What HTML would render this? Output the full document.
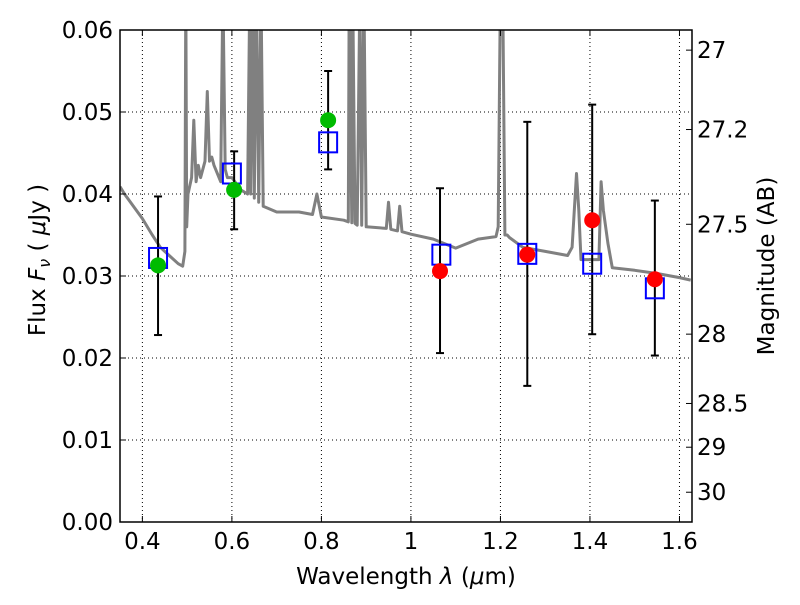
<!DOCTYPE html>
<html><head><meta charset="utf-8"><style>
body{margin:0;background:#fff;}
svg text{font-family:"DejaVu Sans","Liberation Sans",sans-serif;fill:#000;}
</style></head><body>
<svg id="chart" width="800" height="600" xmlns="http://www.w3.org/2000/svg">
<g id="grid"></g>
<g id="spec"></g>
<g id="marks"></g>
<g id="axes"></g>
</svg>
<script>
const specW=[0.35,0.36,0.38,0.40,0.42,0.44,0.46,0.48,0.49,0.495,0.497,0.499,0.502,0.51,0.515,0.52,0.525,0.53,0.54,0.545,0.55,0.555,0.56,0.575,0.58,0.585,0.59,0.6,0.62,0.635,0.64,0.642,0.648,0.65,0.655,0.66,0.665,0.67,0.7,0.75,0.78,0.79,0.80,0.85,0.86,0.862,0.868,0.87,0.875,0.88,0.886,0.89,0.895,0.9,0.945,0.95,0.955,0.97,0.975,0.98,1.0,1.05,1.1,1.15,1.19,1.195,1.2,1.205,1.21,1.215,1.22,1.25,1.3,1.35,1.36,1.37,1.375,1.38,1.4,1.42,1.425,1.43,1.44,1.45,1.5,1.55,1.6,1.625];
const specF=[0.0409,0.0400,0.0385,0.0370,0.0352,0.0335,0.0325,0.0315,0.0312,0.0330,0.065,0.0360,0.0400,0.0420,0.0490,0.0415,0.0435,0.0420,0.0440,0.0525,0.0440,0.0445,0.0435,0.0415,0.065,0.0430,0.0420,0.0420,0.0405,0.0400,0.065,0.0400,0.065,0.0395,0.065,0.0390,0.065,0.0385,0.0378,0.0378,0.0375,0.0400,0.0372,0.0368,0.0366,0.065,0.0365,0.065,0.0364,0.0362,0.065,0.0362,0.065,0.0360,0.0358,0.0390,0.0357,0.0355,0.0385,0.0354,0.0351,0.0345,0.0334,0.0345,0.0348,0.0360,0.065,0.065,0.0350,0.0350,0.0347,0.0335,0.0330,0.0325,0.0335,0.0425,0.0380,0.0320,0.0320,0.0320,0.0415,0.0380,0.0340,0.0310,0.0307,0.0303,0.0298,0.0295];
const photX=[0.435,0.605,0.815,1.065,1.26,1.405,1.545];
const photF=[0.0313,0.0405,0.0490,0.0306,0.0326,0.0368,0.0296];
const errLo=[0.0228,0.0357,0.0430,0.0206,0.0166,0.0229,0.0203];
const errHi=[0.0397,0.0452,0.0550,0.0407,0.0488,0.0509,0.0392];
const photColor=["#00bb00","#00bb00","#00bb00","red","red","red","red"];
const modelX=[0.435,0.600,0.815,1.068,1.260,1.405,1.545];
const modelF=[0.0322,0.0425,0.0463,0.0326,0.0327,0.0315,0.0285];
const xTicks=[0.4,0.6,0.8,1.0,1.2,1.4,1.6];
const xTickLabels=["0.4","0.6","0.8","1","1.2","1.4","1.6"];
const yTicks=[0,0.01,0.02,0.03,0.04,0.05,0.06];
const yTickLabels=["0.00","0.01","0.02","0.03","0.04","0.05","0.06"];
const magTicks=[27,27.2,27.5,28,28.5,29,30];
const magTickLabels=["27","27.2","27.5","28","28.5","29","30"];

const L=120,R=692,T=30,B=522,x0=0.35,x1=1.628,y0=0,y1=0.06;
const FS=23;
const sx=v=>L+(v-x0)/(x1-x0)*(R-L);
const sy=v=>B-(v-y0)/(y1-y0)*(B-T);
const NS="http://www.w3.org/2000/svg";
function mk(tag,attrs,parent){const e=document.createElementNS(NS,tag);for(const k in attrs)e.setAttribute(k,attrs[k]);parent.appendChild(e);return e;}
const grid=document.getElementById('grid'),spec=document.getElementById('spec'),marks=document.getElementById('marks'),axes=document.getElementById('axes');

xTicks.forEach(v=>{const g=mk('line',{x1:sx(v),x2:sx(v),y1:T,y2:B,stroke:'#000','stroke-width':1,'stroke-dasharray':'1,3'},grid);
});
yTicks.forEach(v=>{const g=mk('line',{x1:L,x2:R,y1:sy(v),y2:sy(v),stroke:'#000','stroke-width':1,'stroke-dasharray':'1,3'},grid);
});

const defs=mk('defs',{},spec);const cp=mk('clipPath',{id:'clip'},defs);mk('rect',{x:L,y:T,width:R-L,height:B-T},cp);
let d=specW.map((w,i)=>(i?'L':'M')+sx(w).toFixed(1)+','+sy(specF[i]).toFixed(1)).join(' ');
const sp=mk('path',{d:d,fill:'none',stroke:'#808080','stroke-width':3,'stroke-linejoin':'round','clip-path':'url(#clip)'},spec);


photX.forEach((x,i)=>{
 const px=sx(x);
 const e=mk('line',{x1:px,x2:px,y1:sy(errLo[i]),y2:sy(errHi[i]),stroke:'#000','stroke-width':2},marks);
 
 [errLo[i],errHi[i]].forEach(v=>{const c=mk('line',{x1:px-4,x2:px+4,y1:sy(v),y2:sy(v),stroke:'#000','stroke-width':2},marks);
 });
});
modelX.forEach((x,i)=>{const r=mk('rect',{x:sx(x)-9,y:sy(modelF[i])-10,width:18,height:20,fill:'none',stroke:'#0000ff','stroke-width':2},marks);
 });
photX.forEach((x,i)=>{const c=mk('circle',{cx:sx(x),cy:sy(photF[i]),r:8,fill:photColor[i]},marks);
 });

const fr=mk('rect',{x:L,y:T,width:R-L,height:B-T,fill:'none',stroke:'#000','stroke-width':1.5},axes);

xTicks.forEach((v,i)=>{mk('line',{x1:sx(v),x2:sx(v),y1:B,y2:B-6,stroke:'#000'},axes);mk('line',{x1:sx(v),x2:sx(v),y1:T,y2:T+6,stroke:'#000'},axes);
 const t=mk('text',{x:sx(v),y:B+27,'text-anchor':'middle','font-size':FS},axes);t.textContent=xTickLabels[i];
 });
yTicks.forEach((v,i)=>{mk('line',{x1:L,x2:L+6,y1:sy(v),y2:sy(v),stroke:'#000'},axes);
 const t=mk('text',{x:L-7,y:sy(v)+8,'text-anchor':'end','font-size':FS},axes);t.textContent=yTickLabels[i];
 });
magTicks.forEach((m,i)=>{const f=Math.pow(10,(23.9-m)/2.5);const y=sy(f);
 mk('line',{x1:R,x2:R-6,y1:y,y2:y,stroke:'#000'},axes);
 const t=mk('text',{x:R+5,y:y+8,'font-size':FS},axes);t.textContent=magTickLabels[i];
 });

let t=mk('text',{x:406,y:584,'text-anchor':'middle','font-size':FS,'xml:space':'preserve'},axes);
t.innerHTML='Wavelength  <tspan font-style="italic">λ</tspan> (<tspan font-style="italic">μ</tspan>m)';

t=mk('text',{x:0,y:0,'text-anchor':'middle','font-size':FS,transform:'translate(45,260) rotate(-90)'},axes);
t.setAttribute('xml:space','preserve');
t.innerHTML='Flux  <tspan font-style="italic">F</tspan><tspan font-style="italic" font-size="16" dy="5">ν</tspan><tspan dy="-5">  (  </tspan><tspan font-style="italic">μ</tspan>Jy )';

t=mk('text',{x:0,y:0,'text-anchor':'middle','font-size':FS,transform:'translate(774,266) rotate(-90)'},axes);
t.textContent='Magnitude (AB)';

</script>
</body></html>
